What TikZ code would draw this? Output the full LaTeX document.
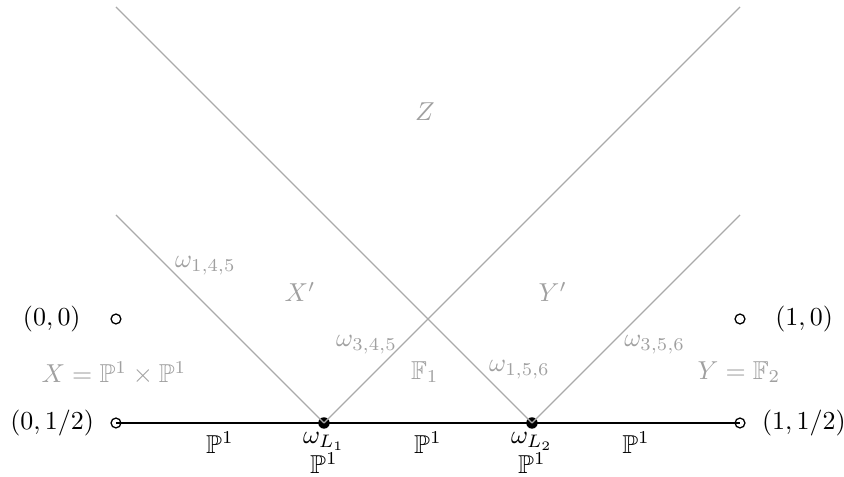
\documentclass[tikz,border=0pt]{standalone}
\usepackage{amsmath,amssymb}
\usetikzlibrary{positioning}
\definecolor{wallgray}{RGB}{170,170,170}
\definecolor{labelgray}{RGB}{160,160,160}
\tikzset{
  wall/.style={draw=wallgray, line width=0.45pt},
  baseline/.style={draw=black, line width=0.55pt},
  opendot/.style={circle, draw=black, fill=white, line width=0.5pt,
    minimum size=3.8pt, inner sep=0pt},
  fulldot/.style={circle, fill=black, minimum size=4.4pt, inner sep=0pt},
  chamber/.style={text=labelgray},
  curvelabel/.style={anchor=base, inner sep=0.5pt}
}

\begin{document}
\begin{tikzpicture}[x=1.41cm, y=1.41cm]
  \useasboundingbox (-1.115,-0.519) rectangle (7.0,4.067);
  % points on the boundary
  \node[opendot] (p00) at (0,1) {};
  \node[opendot] (p10) at (6,1) {};
  \node[opendot] (q0) at (0,0) {};
  \node[opendot] (q1) at (6,0) {};
  \node[fulldot] (l1) at (2,0) {};
  \node[fulldot] (l2) at (4,0) {};
  \coordinate (a1) at (0,2);
  \coordinate (a2) at (6,4);
  \coordinate (b1) at (0,4);
  \coordinate (b2) at (6,2);
  % walls
  \draw[baseline] (q0.center) -- (l1.center) -- (l2.center) -- (q1.center);
  \draw[wall] (l1.center) -- (a1);
  \draw[wall] (l1.center) -- (a2);
  \draw[wall] (l2.center) -- (b1);
  \draw[wall] (l2.center) -- (b2);
  % coordinates
  \node[left=0.28cm of p00] (t00) {$(0,0)$};
  \node[left=0.1cm of q0] (t0h) {$(0,1/2)$};
  \node[right=0.28cm of p10] (t10) {$(1,0)$};
  \node[right=0.1cm of q1] (t1h) {$(1,1/2)$};
  % chambers
  \node[chamber] (z) at (2.97,2.99) {$Z$};
  \node[chamber] (xp) at (1.77,1.26) {$X'$};
  \node[chamber] (yp) at (4.2,1.26) {$Y'$};
  \node[chamber] (f1) at (2.97,0.49) {$\mathbb{F}_1$};
  \node[chamber] (x) at (-0.02,0.48) {$X=\mathbb{P}^1\times\mathbb{P}^1$};
  \node[chamber] (y) at (5.99,0.49) {$Y=\mathbb{F}_2$};
  \node[chamber] (w145) at (0.86,1.51) {$\omega_{1,4,5}$};
  \node[chamber] (w345) at (2.41,0.75) {$\omega_{3,4,5}$};
  \node[chamber] (w156) at (3.88,0.51) {$\omega_{1,5,6}$};
  \node[chamber] (w356) at (5.18,0.75) {$\omega_{3,5,6}$};
  % curves on the base
  \node[curvelabel] (c1) at (1,-0.29) {$\mathbb{P}^1$};
  \node[curvelabel] (c2) at (3,-0.29) {$\mathbb{P}^1$};
  \node[curvelabel] (c3) at (5,-0.29) {$\mathbb{P}^1$};
  \node[curvelabel] (wl1) at (2,-0.2) {$\omega_{L_1}$};
  \node[curvelabel] (e1) at (2,-0.49) {$\mathbb{P}^1$};
  \node[curvelabel] (wl2) at (4,-0.2) {$\omega_{L_2}$};
  \node[curvelabel] (e2) at (4,-0.49) {$\mathbb{P}^1$};
\end{tikzpicture}
\end{document}
